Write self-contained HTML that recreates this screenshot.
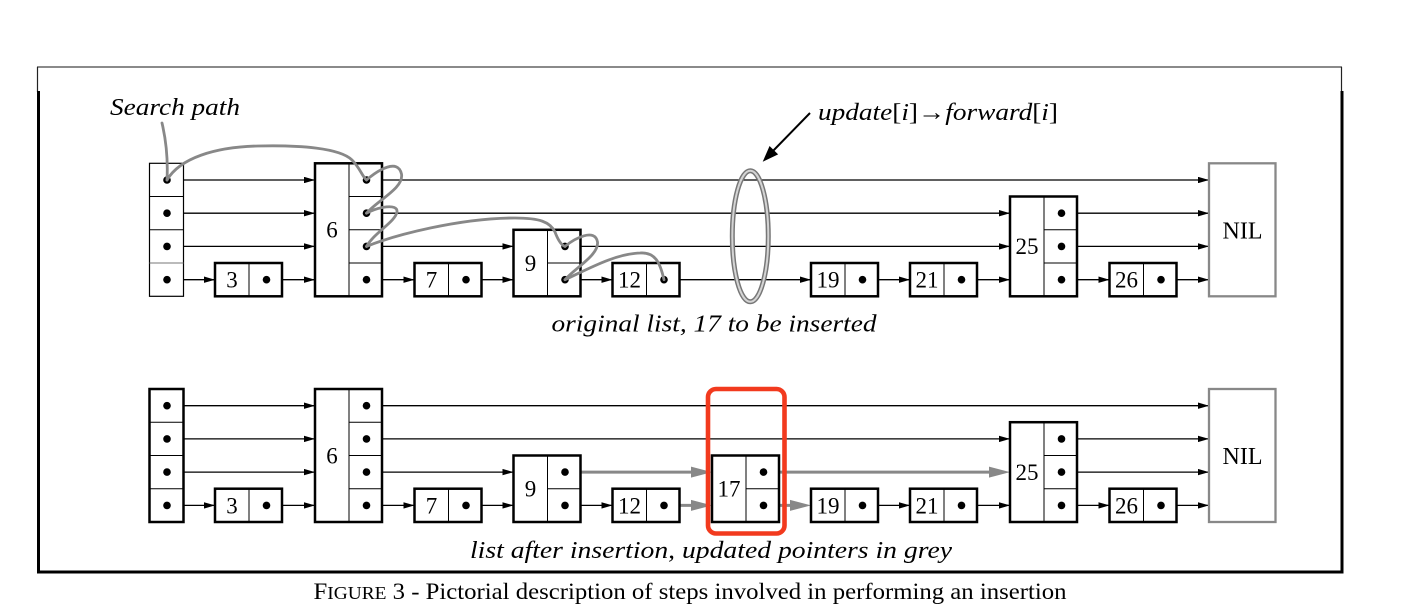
<!DOCTYPE html>
<html>
<head>
<meta charset="utf-8">
<style>
html,body{margin:0;padding:0;background:#fff;}
svg{display:block;}
text{font-family:"Liberation Serif","DejaVu Serif",serif;fill:#000;}
</style>
</head>
<body>
<svg width="1402" height="614" viewBox="0 0 1402 614" xmlns="http://www.w3.org/2000/svg">
<defs>
<marker id="ah" viewBox="0 0 11 6.4" refX="11" refY="3.2" markerWidth="11" markerHeight="6.4" markerUnits="userSpaceOnUse" orient="auto">
<path d="M0,0 L11,3.2 L0,6.4 z" fill="#000"/>
</marker>
</defs>

<!-- frame -->
<g stroke="#222" fill="none">
<line x1="37" y1="67" x2="1342" y2="67" stroke-width="1.3" stroke="#444"/>
<line x1="37.5" y1="67" x2="37.5" y2="92" stroke-width="1.2"/>
<line x1="1341.5" y1="67" x2="1341.5" y2="92" stroke-width="1.2"/>
<line x1="38.5" y1="91" x2="38.5" y2="573" stroke-width="3" stroke="#000"/>
<line x1="1342" y1="91" x2="1342" y2="573" stroke-width="3" stroke="#000"/>
<line x1="37" y1="572" x2="1343.5" y2="572" stroke-width="3" stroke="#000"/>
</g>

<!-- ============ TOP LIST ============ -->
<g id="top">
<g stroke="#000" stroke-width="1.3" marker-end="url(#ah)">
<line x1="167" y1="180" x2="315" y2="180"/>
<line x1="366.5" y1="180" x2="1209" y2="180"/>
<line x1="167" y1="213.2" x2="315" y2="213.2"/>
<line x1="366.5" y1="213.2" x2="1010" y2="213.2"/>
<line x1="1061.5" y1="213.2" x2="1209" y2="213.2"/>
<line x1="167" y1="246.4" x2="315" y2="246.4"/>
<line x1="366.5" y1="246.4" x2="513.5" y2="246.4"/>
<line x1="565" y1="246.4" x2="1010" y2="246.4"/>
<line x1="1061.5" y1="246.4" x2="1209" y2="246.4"/>
<line x1="167" y1="279.7" x2="215" y2="279.7"/>
<line x1="266.5" y1="279.7" x2="315" y2="279.7"/>
<line x1="366.5" y1="279.7" x2="414.5" y2="279.7"/>
<line x1="466" y1="279.7" x2="513.5" y2="279.7"/>
<line x1="565" y1="279.7" x2="612.5" y2="279.7"/>
<line x1="664" y1="279.7" x2="811" y2="279.7"/>
<line x1="862.5" y1="279.7" x2="910" y2="279.7"/>
<line x1="961.5" y1="279.7" x2="1010" y2="279.7"/>
<line x1="1061.5" y1="279.7" x2="1109.5" y2="279.7"/>
<line x1="1161" y1="279.7" x2="1209" y2="279.7"/>
</g>
<!-- header (thin) -->
<rect x="149.5" y="163.3" width="34" height="133" fill="#fff" stroke="#000" stroke-width="1.2"/>
<g stroke="#000" stroke-width="1">
<line x1="149.5" y1="196.5" x2="183.5" y2="196.5"/>
<line x1="149.5" y1="229.8" x2="183.5" y2="229.8"/>
<line x1="149.5" y1="263" x2="183.5" y2="263" stroke="#777"/>
</g>
<!-- nodes -->
<g fill="#fff" stroke="#000" stroke-width="2.5">
<rect x="215" y="263" width="67" height="33.3"/>
<rect x="315" y="163.3" width="67" height="133"/>
<rect x="414.5" y="263" width="67" height="33.3"/>
<rect x="513.5" y="229.8" width="67" height="66.5"/>
<rect x="612.5" y="263" width="67" height="33.3"/>
<rect x="811" y="263" width="67" height="33.3"/>
<rect x="910" y="263" width="67" height="33.3"/>
<rect x="1010" y="196.5" width="67" height="99.8"/>
<rect x="1109.5" y="263" width="67" height="33.3"/>
</g>
<rect x="1209" y="163.3" width="66.5" height="133" fill="#fff" stroke="#888" stroke-width="2.3"/>
<g stroke="#000" stroke-width="1">
<line x1="249" y1="263" x2="249" y2="296.3"/>
<line x1="349" y1="163.3" x2="349" y2="296.3"/>
<line x1="349" y1="196.5" x2="382" y2="196.5"/>
<line x1="349" y1="229.8" x2="382" y2="229.8"/>
<line x1="349" y1="263" x2="382" y2="263"/>
<line x1="448.5" y1="263" x2="448.5" y2="296.3"/>
<line x1="547.5" y1="229.8" x2="547.5" y2="296.3"/>
<line x1="547.5" y1="263" x2="580.5" y2="263"/>
<line x1="646.5" y1="263" x2="646.5" y2="296.3"/>
<line x1="845" y1="263" x2="845" y2="296.3"/>
<line x1="944" y1="263" x2="944" y2="296.3"/>
<line x1="1044" y1="196.5" x2="1044" y2="296.3"/>
<line x1="1044" y1="229.8" x2="1077" y2="229.8"/>
<line x1="1044" y1="263" x2="1077" y2="263"/>
<line x1="1143.5" y1="263" x2="1143.5" y2="296.3"/>
</g>
<!-- dots -->
<g fill="#000">
<circle cx="167" cy="180" r="3.8"/><circle cx="167" cy="213.2" r="3.8"/><circle cx="167" cy="246.4" r="3.8"/><circle cx="167" cy="279.7" r="3.8"/>
<circle cx="266.5" cy="279.7" r="3.8"/>
<circle cx="366.5" cy="180" r="3.8"/><circle cx="366.5" cy="213.2" r="3.8"/><circle cx="366.5" cy="246.4" r="3.8"/><circle cx="366.5" cy="279.7" r="3.8"/>
<circle cx="466" cy="279.7" r="3.8"/>
<circle cx="565" cy="246.4" r="3.8"/><circle cx="565" cy="279.7" r="3.8"/>
<circle cx="664" cy="279.7" r="3.8"/>
<circle cx="862.5" cy="279.7" r="3.8"/>
<circle cx="961.5" cy="279.7" r="3.8"/>
<circle cx="1061.5" cy="213.2" r="3.8"/><circle cx="1061.5" cy="246.4" r="3.8"/><circle cx="1061.5" cy="279.7" r="3.8"/>
<circle cx="1161" cy="279.7" r="3.8"/>
</g>
<!-- labels -->
<g font-size="23" text-anchor="middle">
<text x="232" y="287.6">3</text>
<text x="332" y="237.6">6</text>
<text x="431.5" y="287.6">7</text>
<text x="530.5" y="270.8">9</text>
<text x="629.5" y="287.6">12</text>
<text x="828" y="287.6">19</text>
<text x="927" y="287.6">21</text>
<text x="1027" y="254.2">25</text>
<text x="1126.5" y="287.6">26</text>
<text x="1242.5" y="238.5" font-size="24">NIL</text>
</g>
</g>

<!-- search path curves -->
<g fill="none" stroke="#888" stroke-width="2.8" stroke-linecap="round">
<path d="M162,123 C166,140 168,160 167,180"/>
<path d="M167,180 C180,158 215,147 258,146 C300,145 340,148 352,160 C360,168 362,176 366.5,180"/>
<path d="M366.5,180 C378,170 398,158 401.5,174 C404,188 378,200 366.5,213.2"/>
<path d="M366.5,213.2 C378,207 398,203 397,212 C395,222 375,232 366.5,246.4"/>
<path d="M366.5,246.4 C395,235 460,218 515,218 C540,218 550,222 555,232 C558,240 561,245 565,246.4"/>
<path d="M565,246.4 C575,238 595,228 597.5,242 C599,255 575,268 565,279.7"/>
<path d="M565,279.7 C590,268 615,254 640,253 C655,252 660,262 664,279.7"/>
</g>

<!-- ellipse -->
<ellipse cx="750.3" cy="236.3" rx="18" ry="65.5" fill="none" stroke="#777" stroke-width="5"/>
<ellipse cx="750.3" cy="236.3" rx="18" ry="65.5" fill="none" stroke="#d4d4d4" stroke-width="2"/>

<!-- update arrow -->
<line x1="810" y1="113" x2="771" y2="153" stroke="#000" stroke-width="2"/>
<polygon points="762.7,161.7 778.15,154.4 769.55,146.05" fill="#000"/>

<!-- top texts -->
<text x="110" y="115" font-size="24.5" font-style="italic" textLength="130" lengthAdjust="spacingAndGlyphs">Search path</text>
<text x="818" y="120" font-size="24.5" textLength="240" lengthAdjust="spacingAndGlyphs"><tspan font-style="italic">update</tspan>[<tspan font-style="italic">i</tspan>]→<tspan font-style="italic">forward</tspan>[<tspan font-style="italic">i</tspan>]</text>
<text x="551.5" y="331.7" font-size="24.5" font-style="italic" textLength="325" lengthAdjust="spacingAndGlyphs">original list, 17 to be inserted</text>

<!-- ============ BOTTOM LIST ============ -->
<g transform="translate(0,225.7)">
<g stroke="#000" stroke-width="1.3" marker-end="url(#ah)">
<line x1="167" y1="180" x2="315" y2="180"/>
<line x1="366.5" y1="180" x2="1209" y2="180"/>
<line x1="167" y1="213.2" x2="315" y2="213.2"/>
<line x1="366.5" y1="213.2" x2="1010" y2="213.2"/>
<line x1="1061.5" y1="213.2" x2="1209" y2="213.2"/>
<line x1="167" y1="246.4" x2="315" y2="246.4"/>
<line x1="366.5" y1="246.4" x2="513.5" y2="246.4"/>
<line x1="1061.5" y1="246.4" x2="1209" y2="246.4"/>
<line x1="167" y1="279.7" x2="215" y2="279.7"/>
<line x1="266.5" y1="279.7" x2="315" y2="279.7"/>
<line x1="366.5" y1="279.7" x2="414.5" y2="279.7"/>
<line x1="466" y1="279.7" x2="513.5" y2="279.7"/>
<line x1="565" y1="279.7" x2="612.5" y2="279.7"/>
<line x1="862.5" y1="279.7" x2="910" y2="279.7"/>
<line x1="961.5" y1="279.7" x2="1010" y2="279.7"/>
<line x1="1061.5" y1="279.7" x2="1109.5" y2="279.7"/>
<line x1="1161" y1="279.7" x2="1209" y2="279.7"/>
</g>
<!-- grey updated pointers -->
<g stroke="#888" stroke-width="3">
<line x1="565" y1="246.4" x2="693" y2="246.4"/>
<line x1="763.5" y1="246.4" x2="991" y2="246.4"/>
<line x1="664" y1="279.7" x2="693" y2="279.7"/>
<line x1="763.5" y1="279.7" x2="792" y2="279.7"/>
</g>
<g fill="#888">
<polygon points="691,240.9 712,246.4 691,251.9"/>
<polygon points="989,240.9 1010,246.4 989,251.9"/>
<polygon points="691,274.2 712,279.7 691,285.2"/>
<polygon points="790,274.2 811,279.7 790,285.2"/>
</g>
<!-- header (bold) -->
<rect x="149.5" y="163.3" width="34" height="133" fill="#fff" stroke="#000" stroke-width="2.5"/>
<g stroke="#000" stroke-width="1">
<line x1="149.5" y1="196.5" x2="183.5" y2="196.5"/>
<line x1="149.5" y1="229.8" x2="183.5" y2="229.8"/>
<line x1="149.5" y1="263" x2="183.5" y2="263"/>
</g>
<g fill="#fff" stroke="#000" stroke-width="2.5">
<rect x="215" y="263" width="67" height="33.3"/>
<rect x="315" y="163.3" width="67" height="133"/>
<rect x="414.5" y="263" width="67" height="33.3"/>
<rect x="513.5" y="229.8" width="67" height="66.5"/>
<rect x="612.5" y="263" width="67" height="33.3"/>
<rect x="712" y="229.8" width="67" height="66.5"/>
<rect x="811" y="263" width="67" height="33.3"/>
<rect x="910" y="263" width="67" height="33.3"/>
<rect x="1010" y="196.5" width="67" height="99.8"/>
<rect x="1109.5" y="263" width="67" height="33.3"/>
</g>
<rect x="1209" y="163.3" width="66.5" height="133" fill="#fff" stroke="#888" stroke-width="2.3"/>
<g stroke="#000" stroke-width="1">
<line x1="249" y1="263" x2="249" y2="296.3"/>
<line x1="349" y1="163.3" x2="349" y2="296.3"/>
<line x1="349" y1="196.5" x2="382" y2="196.5"/>
<line x1="349" y1="229.8" x2="382" y2="229.8"/>
<line x1="349" y1="263" x2="382" y2="263"/>
<line x1="448.5" y1="263" x2="448.5" y2="296.3"/>
<line x1="547.5" y1="229.8" x2="547.5" y2="296.3"/>
<line x1="547.5" y1="263" x2="580.5" y2="263"/>
<line x1="646.5" y1="263" x2="646.5" y2="296.3"/>
<line x1="746" y1="229.8" x2="746" y2="296.3"/>
<line x1="746" y1="263" x2="779" y2="263"/>
<line x1="845" y1="263" x2="845" y2="296.3"/>
<line x1="944" y1="263" x2="944" y2="296.3"/>
<line x1="1044" y1="196.5" x2="1044" y2="296.3"/>
<line x1="1044" y1="229.8" x2="1077" y2="229.8"/>
<line x1="1044" y1="263" x2="1077" y2="263"/>
<line x1="1143.5" y1="263" x2="1143.5" y2="296.3"/>
</g>
<g fill="#000">
<circle cx="167" cy="180" r="3.8"/><circle cx="167" cy="213.2" r="3.8"/><circle cx="167" cy="246.4" r="3.8"/><circle cx="167" cy="279.7" r="3.8"/>
<circle cx="266.5" cy="279.7" r="3.8"/>
<circle cx="366.5" cy="180" r="3.8"/><circle cx="366.5" cy="213.2" r="3.8"/><circle cx="366.5" cy="246.4" r="3.8"/><circle cx="366.5" cy="279.7" r="3.8"/>
<circle cx="466" cy="279.7" r="3.8"/>
<circle cx="565" cy="246.4" r="3.8"/><circle cx="565" cy="279.7" r="3.8"/>
<circle cx="664" cy="279.7" r="3.8"/>
<circle cx="763.5" cy="246.4" r="3.8"/><circle cx="763.5" cy="279.7" r="3.8"/>
<circle cx="862.5" cy="279.7" r="3.8"/>
<circle cx="961.5" cy="279.7" r="3.8"/>
<circle cx="1061.5" cy="213.2" r="3.8"/><circle cx="1061.5" cy="246.4" r="3.8"/><circle cx="1061.5" cy="279.7" r="3.8"/>
<circle cx="1161" cy="279.7" r="3.8"/>
</g>
<g font-size="23" text-anchor="middle">
<text x="232" y="287.6">3</text>
<text x="332" y="237.6">6</text>
<text x="431.5" y="287.6">7</text>
<text x="530.5" y="270.8">9</text>
<text x="629.5" y="287.6">12</text>
<text x="729" y="270.8">17</text>
<text x="828" y="287.6">19</text>
<text x="927" y="287.6">21</text>
<text x="1027" y="254.2">25</text>
<text x="1126.5" y="287.6">26</text>
<text x="1242.5" y="238.5" font-size="24">NIL</text>
</g>
</g>

<!-- red highlight -->
<rect x="708" y="389" width="76.5" height="144.5" rx="8" ry="8" fill="none" stroke="#f23a1e" stroke-width="4.6"/>

<!-- bottom texts -->
<text x="470" y="558" font-size="24.5" font-style="italic" textLength="482" lengthAdjust="spacingAndGlyphs">list after insertion, updated pointers in grey</text>
<text x="313.5" y="599" font-size="23" textLength="753" lengthAdjust="spacingAndGlyphs">F<tspan font-size="18">IGURE</tspan> 3 - Pictorial description of steps involved in performing an insertion</text>
</svg>
</body>
</html>
